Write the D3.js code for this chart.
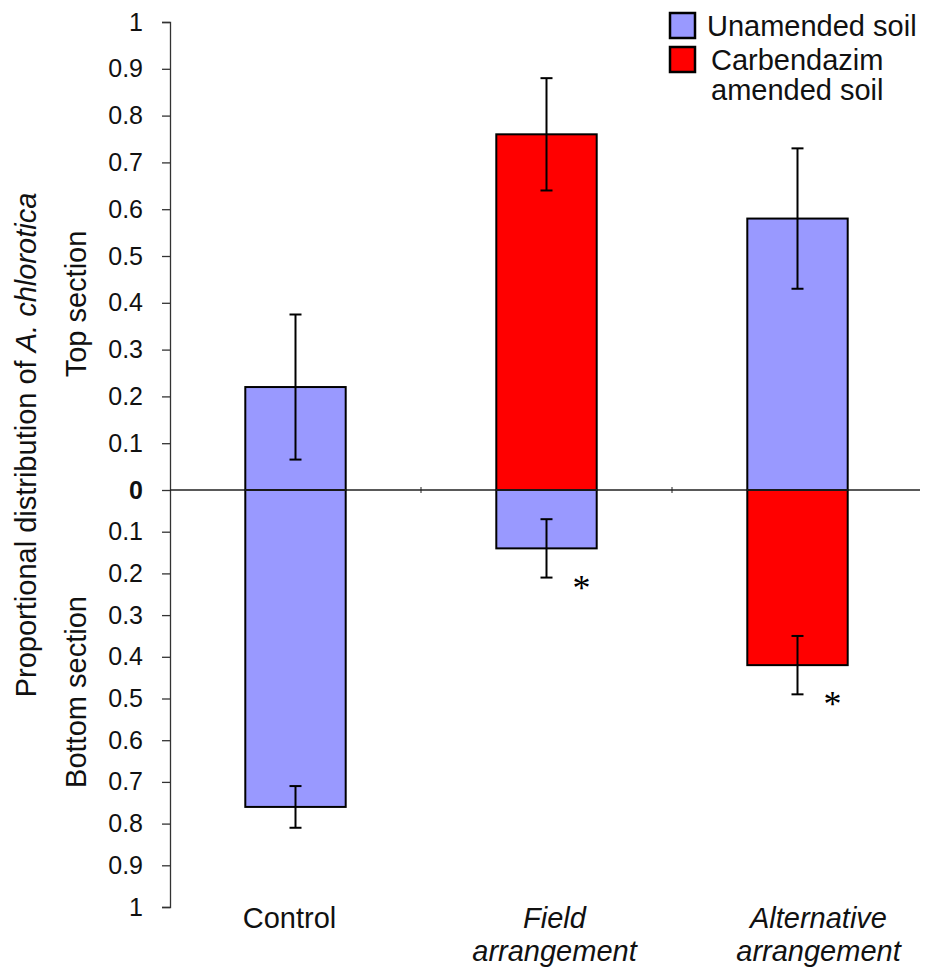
<!DOCTYPE html>
<html>
<head>
<meta charset="utf-8">
<script src="https://cdn.jsdelivr.net/npm/d3@7"></script>
<style>
  body { margin: 0; background: #fff; }
  svg { font-family: Arial, "Liberation Sans", sans-serif; }
</style>
</head>
<body>
<svg id="chart"></svg>
<script>
const SVG_WIDTH = 925;
const SVG_HEIGHT = 973;

// categories along the x axis (second line italic for the arrangements)
const categories = ['Control', 'Field arrangement', 'Alternative arrangement'];
const categoryLines = [['Control'], ['Field', 'arrangement'], ['Alternative', 'arrangement']];
const categoryItalic = [false, true, true];
// the label boxes are not quite centred on the bars
const labelShift = [-6, 8, 21];

// top section (upward) values, series and error bars
const topValues = [0.22, 0.76, 0.58];
const topErrors = [0.155, 0.12, 0.15];
const topSeries = ['unamended', 'carbendazim', 'unamended'];

// bottom section (downward) values, series and error bars
const bottomValues = [0.76, 0.14, 0.42];
const bottomErrors = [0.05, 0.07, 0.07];
const bottomSeries = ['unamended', 'unamended', 'carbendazim'];
const significant = [false, true, true];

const tickValues = [1, 0.9, 0.8, 0.7, 0.6, 0.5, 0.4, 0.3, 0.2, 0.1, 0,
  -0.1, -0.2, -0.3, -0.4, -0.5, -0.6, -0.7, -0.8, -0.9, -1];

const seriesNames = ['unamended', 'carbendazim'];
const seriesLabels = [['Unamended soil'], ['Carbendazim', 'amended soil']];
const seriesColors = ['#9999ff', '#ff0000'];

const color = d3.scaleOrdinal().domain(seriesNames).range(seriesColors);

const svg = d3.select('#chart')
  .attr('width', SVG_WIDTH)
  .attr('height', SVG_HEIGHT);

// the two halves of the axis are not drawn to the same scale
const y = d3.scaleLinear().domain([-1, 0, 1]).range([907, 490, 22]);
const x = d3.scaleBand().domain(categories).range([170, 923]).paddingInner(0.6).paddingOuter(0.3);
const xTicks = d3.scaleBand().domain(categories).range([170, 923]);

// y axis
const yAxis = d3.axisLeft(y)
  .tickValues(tickValues)
  .tickSize(8)
  .tickPadding(19)
  .tickFormat(d => d3.format('~g')(Math.abs(d)));

const yG = svg.append('g')
  .attr('transform', 'translate(170,0)')
  .call(yAxis);
yG.select('.domain').attr('stroke', '#333').attr('stroke-width', 1.3);
yG.selectAll('.tick line').attr('stroke', '#333').attr('stroke-width', 1.3);
yG.selectAll('.tick text')
  .attr('font-size', 25)
  .attr('fill', '#111')
  .attr('font-family', 'Arial, "Liberation Sans", sans-serif')
  .attr('font-weight', d => d === 0 ? 'bold' : 'normal');

// bars
function drawBars(values, series, dir) {
  svg.append('g').selectAll('rect')
    .data(categories)
    .join('rect')
    .attr('x', d => x(d))
    .attr('width', x.bandwidth())
    .attr('y', (d, i) => dir > 0 ? y(values[i]) : y(0))
    .attr('height', (d, i) => Math.abs(y(dir * values[i]) - y(0)))
    .attr('fill', (d, i) => color(series[i]))
    .attr('stroke', '#000')
    .attr('stroke-width', 2);
}
drawBars(topValues, topSeries, 1);
drawBars(bottomValues, bottomSeries, -1);

// zero line with category separators
svg.append('line')
  .attr('x1', 170).attr('x2', 920)
  .attr('y1', y(0)).attr('y2', y(0))
  .attr('stroke', '#222').attr('stroke-width', 1.3);
svg.append('g').selectAll('line')
  .data(categories.slice(1))
  .join('line')
  .attr('x1', d => xTicks(d)).attr('x2', d => xTicks(d))
  .attr('y1', y(0) - 3).attr('y2', y(0) + 3)
  .attr('stroke', '#222').attr('stroke-width', 1);

// error bars
function drawErrors(values, errors, dir) {
  const g = svg.append('g').attr('stroke', '#000').attr('stroke-width', 2);
  categories.forEach((c, i) => {
    const cx = x(c) + x.bandwidth() / 2;
    const lo = y(dir * (values[i] - errors[i]));
    const hi = y(dir * (values[i] + errors[i]));
    g.append('line').attr('x1', cx).attr('x2', cx).attr('y1', lo).attr('y2', hi);
    g.append('line').attr('x1', cx - 6).attr('x2', cx + 6).attr('y1', lo).attr('y2', lo);
    g.append('line').attr('x1', cx - 6).attr('x2', cx + 6).attr('y1', hi).attr('y2', hi);
  });
}
drawErrors(topValues, topErrors, 1);
drawErrors(bottomValues, bottomErrors, -1);

// asterisks for significant differences
svg.append('g').selectAll('text')
  .data(categories.filter((c, i) => significant[i]))
  .join('text')
  .attr('x', d => x(d) + x.bandwidth() / 2 + 35)
  .attr('y', d => {
    const i = categories.indexOf(d);
    return y(-(bottomValues[i] + bottomErrors[i])) + 22;
  })
  .attr('text-anchor', 'middle')
  .attr('font-family', '"Liberation Serif", "DejaVu Serif", serif')
  .attr('font-size', 36)
  .text('*');

// category labels
const catG = svg.append('g');
categories.forEach((c, i) => {
  const cx = xTicks(c) + xTicks.bandwidth() / 2 + labelShift[i];
  const t = catG.append('text')
    .attr('x', cx)
    .attr('y', 928)
    .attr('text-anchor', 'middle')
    .attr('font-size', 29)
    .attr('font-style', categoryItalic[i] ? 'italic' : 'normal')
    .attr('fill', '#111');
  categoryLines[i].forEach((line, j) => {
    t.append('tspan')
      .attr('x', cx)
      .attr('dy', j === 0 ? 0 : 33)
      .text(line);
  });
});

// y axis titles
const yTitle = svg.append('text')
  .attr('transform', 'translate(36,445) rotate(-90)')
  .attr('text-anchor', 'middle')
  .attr('font-size', 29)
  .attr('fill', '#111');
yTitle.append('tspan').text('Proportional distribution of ');
yTitle.append('tspan').attr('font-style', 'italic').text('A. chlorotica');

svg.append('text')
  .attr('transform', 'translate(86,304) rotate(-90)')
  .attr('text-anchor', 'middle')
  .attr('font-size', 29)
  .attr('fill', '#111')
  .text('Top section');

svg.append('text')
  .attr('transform', 'translate(86,692) rotate(-90)')
  .attr('text-anchor', 'middle')
  .attr('font-size', 29)
  .attr('fill', '#111')
  .text('Bottom section');

// legend
const legend = svg.append('g').attr('transform', 'translate(670,13)');
seriesNames.forEach((s, i) => {
  const row = legend.append('g').attr('transform', `translate(0,${i * 34})`);
  row.append('rect')
    .attr('width', 25).attr('height', 25)
    .attr('fill', color(s))
    .attr('stroke', '#000').attr('stroke-width', 2.5);
  const tx = i === 0 ? 37 : 41;
  const t = row.append('text')
    .attr('x', tx)
    .attr('y', 23)
    .attr('font-size', 29)
    .attr('fill', '#111');
  seriesLabels[i].forEach((line, j) => {
    t.append('tspan')
      .attr('x', tx)
      .attr('dy', j === 0 ? 0 : 30)
      .text(line);
  });
});
</script>
</body>
</html>
